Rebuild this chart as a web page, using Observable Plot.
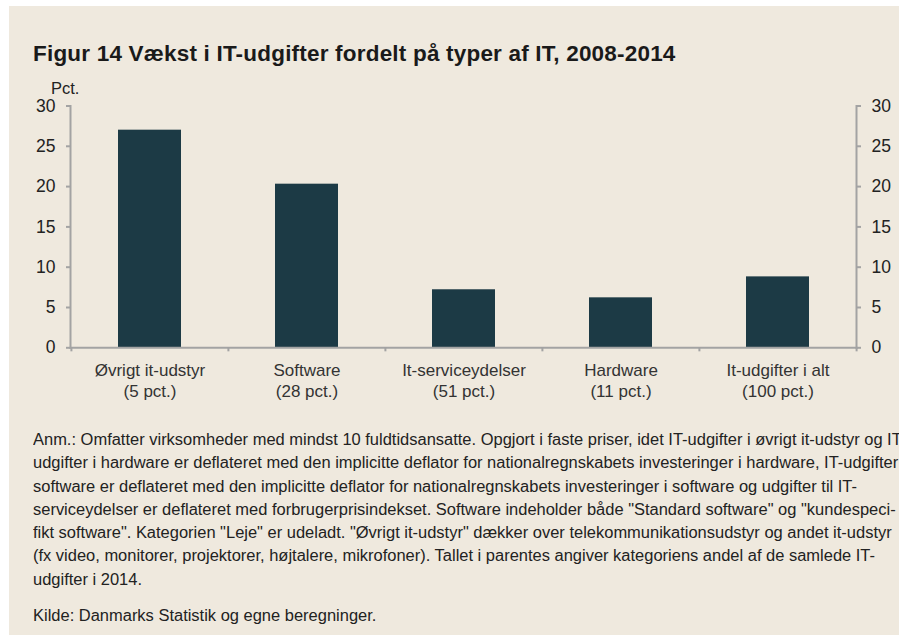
<!DOCTYPE html>
<html>
<head>
<meta charset="utf-8">
<script src="https://cdn.jsdelivr.net/npm/d3@7"></script>
<script src="https://cdn.jsdelivr.net/npm/@observablehq/plot@0.6"></script>
<style>
  html, body { margin: 0; padding: 0; background: #ffffff; width: 899px; height: 635px; overflow: hidden; }
  #panel { position: absolute; left: 9px; top: 6px; width: 890px; height: 629px; background: #efe9de; }
  #title { position: absolute; left: 33px; top: 43px; font: bold 22.5px "Liberation Sans", Arial, sans-serif; line-height: 22.5px; letter-spacing: 0.2px; color: #1a1a1a; white-space: nowrap; }
  #unit { position: absolute; left: 51px; top: 80px; font: 16.5px "Liberation Sans", Arial, sans-serif; line-height: 16.5px; color: #222; }
  #chart { position: absolute; left: 0; top: 80px; }
  #notes { position: absolute; left: 33px; top: 428px; font: 16px "Liberation Sans Narrow", "Liberation Sans", Arial, sans-serif; line-height: 23.3px; color: #222; }
  #notes div { white-space: nowrap; transform-origin: 0 50%; height: 23.3px; }
  #notes div.gap { height: 13px; }
</style>
</head>
<body>
<div id="panel"></div>
<div id="title">Figur 14 Vækst i IT-udgifter fordelt på typer af IT, 2008-2014</div>
<div id="unit">Pct.</div>
<div id="chart"></div>
<div id="notes"></div>
<script>
const categories = ["Øvrigt it-udstyr", "Software", "It-serviceydelser", "Hardware", "It-udgifter i alt"];
const shares = ["5 pct.", "28 pct.", "51 pct.", "11 pct.", "100 pct."];
const growth = [27.0, 20.3, 7.2, 6.2, 8.8];
const yTicks = [0, 5, 10, 15, 20, 25, 30];
const noteLines = [
  "Anm.: Omfatter virksomheder med mindst 10 fuldtidsansatte. Opgjort i faste priser, idet IT-udgifter i øvrigt it-udstyr og IT-",
  "udgifter i hardware er deflateret med den implicitte deflator for nationalregnskabets investeringer i hardware, IT-udgifter i",
  "software er deflateret med den implicitte deflator for nationalregnskabets investeringer i software og udgifter til IT-",
  "serviceydelser er deflateret med forbrugerprisindekset. Software indeholder både \"Standard software\" og \"kundespeci-",
  "fikt software\". Kategorien \"Leje\" er udeladt. \"Øvrigt it-udstyr\" dækker over telekommunikationsudstyr og andet it-udstyr",
  "(fx video, monitorer, projektorer, højtalere, mikrofoner). Tallet i parentes angiver kategoriens andel af de samlede IT-",
  "udgifter i 2014.",
  "",
  "Kilde: Danmarks Statistik og egne beregninger."
];

const data = categories.map((c, i) => ({cat: c, value: growth[i]}));

const W = 899, H = 330, mL = 70, mR = 43, mT = 25.5, mB = 62.7;
const step = (W - mL - mR) / categories.length;
const axisColor = "#a3a3a3";

const chart = Plot.plot({
  width: W, height: H,
  marginLeft: mL, marginRight: mR, marginTop: mT, marginBottom: mB,
  style: {background: "transparent", fontFamily: "'Liberation Sans', Arial, sans-serif", fontSize: "17.5px", color: "#222", overflow: "visible"},
  x: {domain: categories, paddingInner: 0.6, paddingOuter: 0.3},
  y: {domain: [0, 30]},
  marks: [
    Plot.barY(data, {x: "cat", y: "value", fill: "#1c3a45"}),
    Plot.frame({anchor: "left", stroke: axisColor, strokeWidth: 2}),
    Plot.frame({anchor: "right", stroke: axisColor, strokeWidth: 2}),
    Plot.frame({anchor: "bottom", stroke: axisColor, strokeWidth: 2}),
    Plot.ruleX(categories, {x: d => d, dx: -step / 2, y1: 0, y2: -0.5, stroke: axisColor, strokeWidth: 2}),
    Plot.ruleX(categories.slice(-1), {x: d => d, dx: step / 2, y1: 0, y2: -0.5, stroke: axisColor, strokeWidth: 2}),
    Plot.axisY({anchor: "left", ticks: yTicks, tickSize: 4, tickPadding: 11, label: null, stroke: axisColor, strokeWidth: 2, fill: "#222"}),
    Plot.axisY({anchor: "right", ticks: yTicks, tickSize: 4, tickPadding: 11, label: null, stroke: axisColor, strokeWidth: 2, fill: "#222"}),
    Plot.axisX({anchor: "bottom", tickSize: 0, tickPadding: 12.5, label: null, lineHeight: 1.26, fontSize: 17, fill: "#333",
      tickFormat: d => d + "\n(" + shares[categories.indexOf(d)] + ")"})
  ]
});
document.getElementById("chart").appendChild(chart);

const notes = document.getElementById("notes");
const divs = noteLines.map(t => {
  const d = document.createElement("div");
  d.textContent = t;
  if (t === "") d.className = "gap";
  notes.appendChild(d);
  return d;
});
// condense to match the narrow typeface width of the reference (line 3 spans ~824px)
const probe = document.createElement("span");
probe.style.whiteSpace = "nowrap";
probe.textContent = noteLines[2];
notes.appendChild(probe);
const natural = probe.getBoundingClientRect().width;
notes.removeChild(probe);
const k = 824 / natural;
divs.forEach(d => d.style.transform = `scaleX(${k})`);
</script>
</body>
</html>
